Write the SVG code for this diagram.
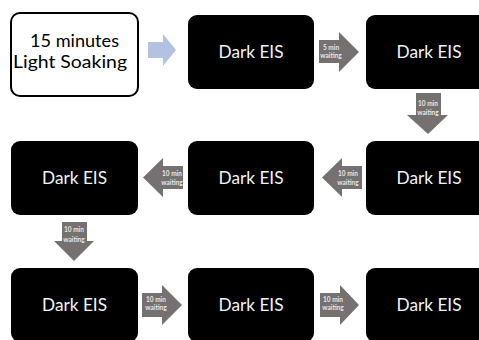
<svg xmlns="http://www.w3.org/2000/svg" width="479" height="340" viewBox="0 0 479 340">
  <style>
    .box { fill: #000000; }
    .label { fill: #f2f2f2; font-family: Lato, "Open Sans", "Liberation Sans", Arial, sans-serif; font-size: 18px; text-anchor: middle; }
    .start { fill: #ffffff; stroke: #000000; stroke-width: 2; }
    .start-text { fill: #000000; font-family: Lato, "Open Sans", "Liberation Sans", Arial, sans-serif; font-size: 17px; text-anchor: middle; }
    .wait { fill: #767171; }
    .wait-text { fill: #e7e6e6; font-family: Lato, "Open Sans", "Liberation Sans", Arial, sans-serif; font-size: 6.5px; font-weight: bold; text-anchor: middle; }
    .go { fill: #b4c2e2; }
  </style>
  <rect width="479" height="340" fill="#ffffff"/>

  <g id="light-soaking">
    <rect class="start" x="11" y="13" width="127" height="83" rx="9"/>
    <text class="start-text" x="74.5" y="47" textLength="89" lengthAdjust="spacingAndGlyphs">15 minutes</text>
    <text class="start-text" x="70" y="68" textLength="114" lengthAdjust="spacingAndGlyphs">Light Soaking</text>
  </g>

  <g id="eis-1">
    <rect class="box" x="188" y="15" width="126" height="74" rx="9"/>
    <text class="label" x="251" y="58" textLength="65" lengthAdjust="spacingAndGlyphs">Dark EIS</text>
  </g>
  <g id="eis-2">
    <rect class="box" x="366" y="15" width="126" height="74" rx="9"/>
    <text class="label" x="429" y="58" textLength="65" lengthAdjust="spacingAndGlyphs">Dark EIS</text>
  </g>
  <g id="eis-3">
    <rect class="box" x="366" y="141" width="126" height="74" rx="9"/>
    <text class="label" x="429" y="184" textLength="65" lengthAdjust="spacingAndGlyphs">Dark EIS</text>
  </g>
  <g id="eis-4">
    <rect class="box" x="188" y="141" width="126" height="74" rx="9"/>
    <text class="label" x="251" y="184" textLength="65" lengthAdjust="spacingAndGlyphs">Dark EIS</text>
  </g>
  <g id="eis-5">
    <rect class="box" x="11" y="141" width="127" height="74" rx="9"/>
    <text class="label" x="74.5" y="184" textLength="65" lengthAdjust="spacingAndGlyphs">Dark EIS</text>
  </g>
  <g id="eis-6">
    <rect class="box" x="11" y="268" width="127" height="74" rx="9"/>
    <text class="label" x="74.5" y="311" textLength="65" lengthAdjust="spacingAndGlyphs">Dark EIS</text>
  </g>
  <g id="eis-7">
    <rect class="box" x="188" y="268" width="126" height="74" rx="9"/>
    <text class="label" x="251" y="311" textLength="65" lengthAdjust="spacingAndGlyphs">Dark EIS</text>
  </g>
  <g id="eis-8">
    <rect class="box" x="366" y="268" width="126" height="74" rx="9"/>
    <text class="label" x="429" y="311" textLength="65" lengthAdjust="spacingAndGlyphs">Dark EIS</text>
  </g>

  <g id="connectors">
    <!-- start arrow -->
    <polygon class="go" points="148,42 163,42 163,34 176,50 163,66 163,58 148,58"/>

    <!-- row 1: right -->
    <polygon class="wait" points="319,40 339,40 339,32 359,52 339,72 339,63 319,63"/>
    <text class="wait-text" x="331" y="50">5 min</text>
    <text class="wait-text" x="331" y="58">waiting</text>

    <!-- right column: down -->
    <polygon class="wait" points="416,93 441,93 441,115 448,115 428,134 407,115 416,115"/>
    <text class="wait-text" x="428" y="106">10 min</text>
    <text class="wait-text" x="428" y="115">waiting</text>

    <!-- row 2: left -->
    <polygon class="wait" points="362,166 342,166 342,158 322,177.5 342,197 342,189 362,189"/>
    <text class="wait-text" x="348" y="176">10 min</text>
    <text class="wait-text" x="348" y="185">waiting</text>
    <polygon class="wait" points="183,166 163,166 163,158 143,177.5 163,197 163,189 183,189"/>
    <text class="wait-text" x="172" y="176">10 min</text>
    <text class="wait-text" x="172" y="185">waiting</text>

    <!-- left column: down -->
    <polygon class="wait" points="62,222 87,222 87,241 94,241 74,261 54,241 62,241"/>
    <text class="wait-text" x="74" y="232">10 min</text>
    <text class="wait-text" x="74" y="242">waiting</text>

    <!-- row 3: right -->
    <polygon class="wait" points="142,293 162,293 162,285 182,305 162,325 162,317 142,317"/>
    <text class="wait-text" x="156" y="302">10 min</text>
    <text class="wait-text" x="156" y="310">waiting</text>
    <polygon class="wait" points="320,293 340,293 340,285 359,305 340,325 340,317 320,317"/>
    <text class="wait-text" x="333" y="302">10 min</text>
    <text class="wait-text" x="333" y="310">waiting</text>
  </g>
</svg>
